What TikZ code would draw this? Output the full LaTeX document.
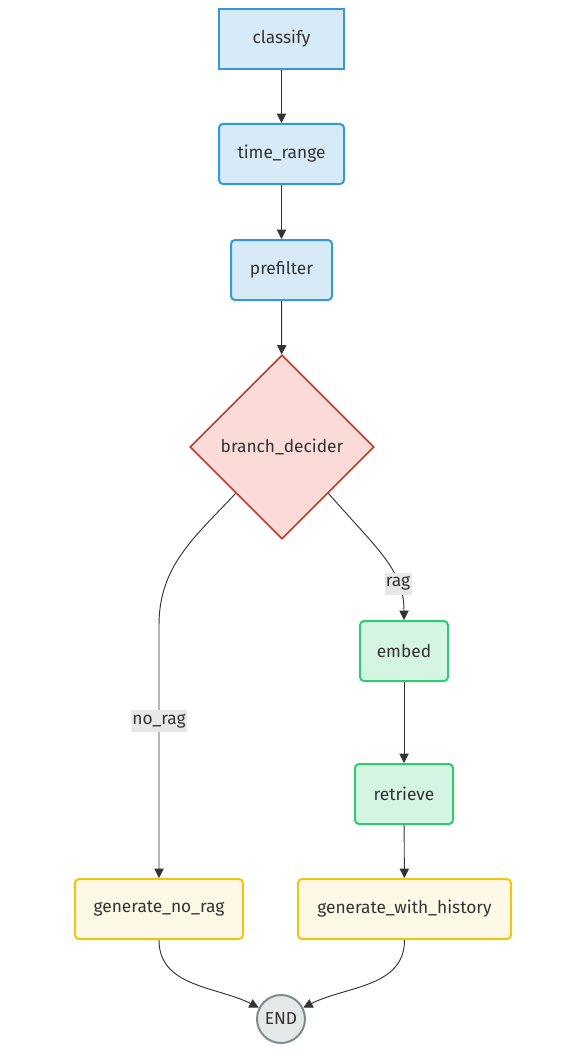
\documentclass[tikz,border=0pt]{standalone}
\usepackage{fontspec}
\setmainfont{Fira Sans}
\usetikzlibrary{arrows.meta, shapes.geometric}

\definecolor{txt}{HTML}{333333}
\definecolor{bluefill}{HTML}{D6EAF8}
\definecolor{blueline}{HTML}{3498DB}
\definecolor{redfill}{HTML}{FADBD8}
\definecolor{redline}{HTML}{C0392B}
\definecolor{greenfill}{HTML}{D5F5E3}
\definecolor{greenline}{HTML}{2ECC71}
\definecolor{yellowfill}{HTML}{FEF9E7}
\definecolor{yellowline}{HTML}{F1C40F}
\definecolor{endfill}{HTML}{E5E8E8}
\definecolor{endline}{HTML}{7F8C8D}
\definecolor{lblfill}{HTML}{E8E8E8}

\tikzset{
	box/.style={draw, line width=1.5pt, minimum height=45pt, inner sep=0pt, rounded corners=3pt},
	bluebox/.style={box, fill=bluefill, draw=blueline},
	greenbox/.style={box, fill=greenfill, draw=greenline},
	yellowbox/.style={box, fill=yellowfill, draw=yellowline},
	decide/.style={diamond, draw=redline, fill=redfill, line width=1.2pt, minimum width=138pt, minimum height=138pt, inner sep=0pt},
	endnode/.style={circle, draw=endline, fill=endfill, line width=1.5pt, minimum size=36pt, inner sep=0pt},
	edge/.style={draw=txt, line width=0.7pt, -{Triangle[length=7pt, width=7pt]}},
	lbl/.style={fill=lblfill, inner xsep=1pt, inner ysep=3pt, text=txt}
}

\begin{document}
\begin{tikzpicture}[x=0.75pt, y=-0.75pt, font=\fontsize{13}{15}\selectfont, text=txt]
	\useasboundingbox (0,0) rectangle (570,1052);

	\node [bluebox, rounded corners=0pt, minimum width=93.75pt] (classify) at (281.5,39) {classify};
	\node [bluebox, minimum width=93.75pt] (time_range) at (281.5,154) {time\_range};
	\node [bluebox, minimum width=75.75pt] (prefilter) at (281.5,270) {prefilter};
	\node [decide] (branch_decider) at (282,447) {branch\_decider};
	\node [greenbox, minimum width=66pt] (embed) at (404,651) {embed};
	\node [greenbox, minimum width=73.5pt] (retrieve) at (404,794) {retrieve};
	\node [yellowbox, minimum width=126pt] (generate_no_rag) at (159,909) {generate\_no\_rag};
	\node [yellowbox, minimum width=159.75pt] (generate_with_history) at (404.5,909) {generate\_with\_history};
	\node [endnode] (end) at (281,1019) {END};

	\coordinate (bend_no_rag) at (159,625);

	\draw [edge] (classify) -- (time_range);
	\draw [edge] (time_range) -- (prefilter);
	\draw [edge] (prefilter) -- (branch_decider);
	\draw [edge] (branch_decider.south west) to [out=-133, in=90] (bend_no_rag) -- node [lbl, pos=0.38] {no\_rag} (generate_no_rag.north);
	\draw [edge] (branch_decider.south east) .. controls +(50,57) and +(0,-50) .. node [lbl, pos=0.72] {rag} (embed.north);
	\draw [edge] (embed) -- (retrieve);
	\draw [edge] (retrieve) -- (generate_with_history);
	\draw [edge] (generate_no_rag.south) to [out=-90, in=153] (end.153);
	\draw [edge] (generate_with_history.south) to [out=-90, in=27] (end.27);
\end{tikzpicture}
\end{document}
